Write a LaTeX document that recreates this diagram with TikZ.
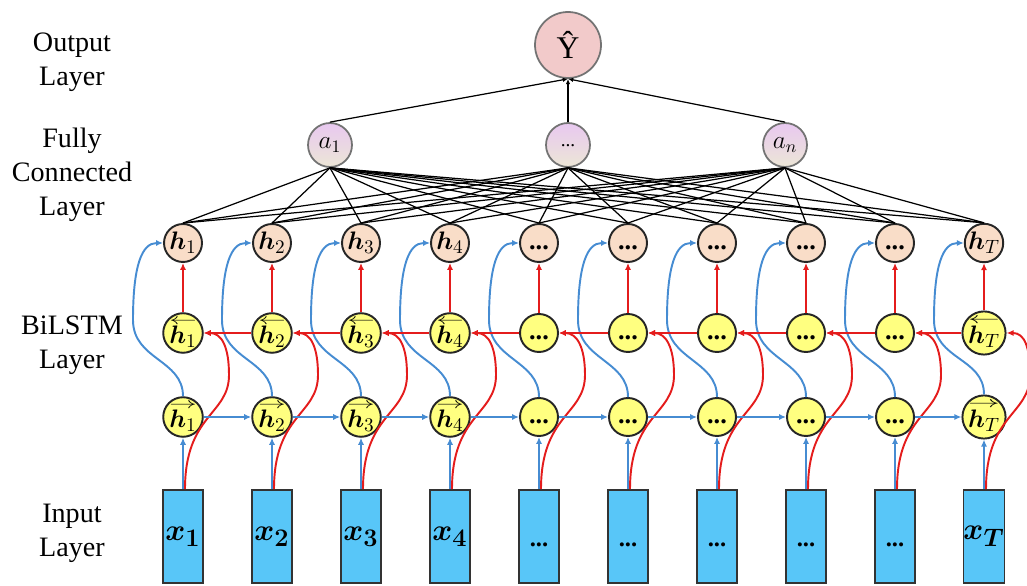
\documentclass[tikz,border=0pt]{standalone}
\usepackage{amsmath}
\usepackage{graphicx}
\usepackage{fontspec}
\setmainfont{Liberation Serif}
\usetikzlibrary{%
  arrows.meta,
  calc
}

\definecolor{peach}{RGB}{249,221,200}
\definecolor{cellyellow}{RGB}{255,255,128}
\definecolor{inblue}{RGB}{88,198,248}
\definecolor{lnblue}{RGB}{70,140,210}
\definecolor{lnred}{RGB}{228,28,28}
\definecolor{yhatpink}{RGB}{242,202,202}
\definecolor{fctop}{RGB}{232,200,240}
\definecolor{fcbot}{RGB}{236,230,214}

% h with a direction arrow stacked above it
\newcommand{\dirh}[2]{%
  \setbox0=\hbox{$\boldsymbol{h}_{#2}$}%
  \vbox{\offinterlineskip\halign{\hfil##\hfil\cr
    \resizebox{\wd0}{3.2pt}{$#1$}\cr\noalign{\kern1pt}\copy0\cr}}}

\tikzset{
  hnode/.style={circle, draw=black!85, line width=1.1pt, fill=peach,
    minimum size=0.76cm, inner sep=0pt, font=\fontsize{15}{18}\selectfont},
  cell/.style={hnode, fill=cellyellow},
  inbox/.style={rectangle, draw=black!80, line width=1pt, fill=inblue,
    minimum width=0.8cm, minimum height=1.86cm, inner sep=0pt,
    font=\fontsize{19}{23}\selectfont},
  fcnode/.style={circle, draw=black!55, line width=1pt, top color=fctop,
    bottom color=fcbot, minimum size=0.88cm, inner sep=0pt,
    font=\fontsize{14}{17}\selectfont},
  outnode/.style={circle, draw=black!55, line width=1pt, fill=yhatpink,
    minimum size=1.32cm, inner sep=0pt, font=\fontsize{18}{20}\selectfont},
  layerlbl/.style={align=center, font=\fontsize{16}{19.5}\selectfont},
  barr/.style={-{Latex[length=4pt,width=3.5pt]}, lnblue, line width=1.1pt},
  rarr/.style={-{Latex[length=4pt,width=3.5pt]}, lnred, line width=1.1pt},
  fcline/.style={black, line width=0.7pt}
}

\begin{document}
\begin{tikzpicture}[x=0.02cm, y=0.02cm]
    \useasboundingbox (0,0) rectangle (1027,585);

    % layer names
    \node[layerlbl] (lblout) at (72,523) {Output\\Layer};
    \node[layerlbl] (lblfc) at (72,410) {Fully\\Connected\\Layer};
    \node[layerlbl] (lblbi) at (72,240) {BiLSTM\\Layer};
    \node[layerlbl] (lblin) at (72,52) {Input\\Layer};

    % named time steps
    \foreach \i/\s in {1/1,2/2,3/3,4/4,10/T}{
      \node[hnode] (out\i) at ({183+89*(\i-1)},342) {$\boldsymbol{h}_{\s}$};
      \node[cell] (bw\i) at ({183+89*(\i-1)},252) {\dirh{\leftarrow}{\s}};
      \node[cell] (fw\i) at ({183+89*(\i-1)},168) {\dirh{\rightarrow}{\s}};
      \node[inbox] (x\i) at ({183+89*(\i-1)},48.5) {$\boldsymbol{x_{\s}}$};
    }
    % hidden time steps
    \foreach \i in {5,...,9}{
      \node[hnode] (out\i) at ({183+89*(\i-1)},342) {\strut\textbf{...}};
      \node[cell] (bw\i) at ({183+89*(\i-1)},252) {\strut\textbf{...}};
      \node[cell] (fw\i) at ({183+89*(\i-1)},168) {\strut\textbf{...}};
      \node[inbox] (x\i) at ({183+89*(\i-1)},48.5) {\raisebox{-12pt}{\fontsize{14}{16}\selectfont\textbf{...}}};
    }

    \node[fcnode] (a1) at (330,440) {$a_1$};
    \node[fcnode] (a2) at (568,440) {\raisebox{-2pt}{\fontsize{11}{12}\selectfont ...}};
    \node[fcnode] (a3) at (785,440) {$a_n$};
    \node[outnode] (yhat) at (568,540) {Ŷ};

    \foreach \i in {1,...,10}
      \foreach \j in {1,2,3}
        \draw[fcline] (out\i.north) -- (a\j.south);
    \foreach \j in {1,2,3}
      \draw[fcline, -{Latex[length=3pt,width=2.5pt]}] (a\j.north) -- (yhat.south);

    \foreach \i in {1,...,10}{
      \draw[barr] (x\i.north) -- (fw\i.south);
      \draw[rarr] (bw\i.north) -- (out\i.south);
      \draw[barr] (fw\i.north) .. controls +(0,37) and +(0,-40) .. ($(bw\i)+(-50,13)$)
        .. controls +(0,55) and +(-21,0) .. (out\i.west);
      \draw[rarr] ($(x\i.north)+(2,0)$) .. controls +(0,75) and +(0,-40) .. ($(fw\i)+(46,42)$)
        .. controls +(0,28) and +(18,0) .. (bw\i.east);
    }
    \foreach \i [evaluate=\i as \k using int(\i+1)] in {1,...,9}{
      \draw[barr] (fw\i.east) -- (fw\k.west);
      \draw[rarr] (bw\k.west) -- (bw\i.east);
    }

  \end{tikzpicture}
\end{document}
